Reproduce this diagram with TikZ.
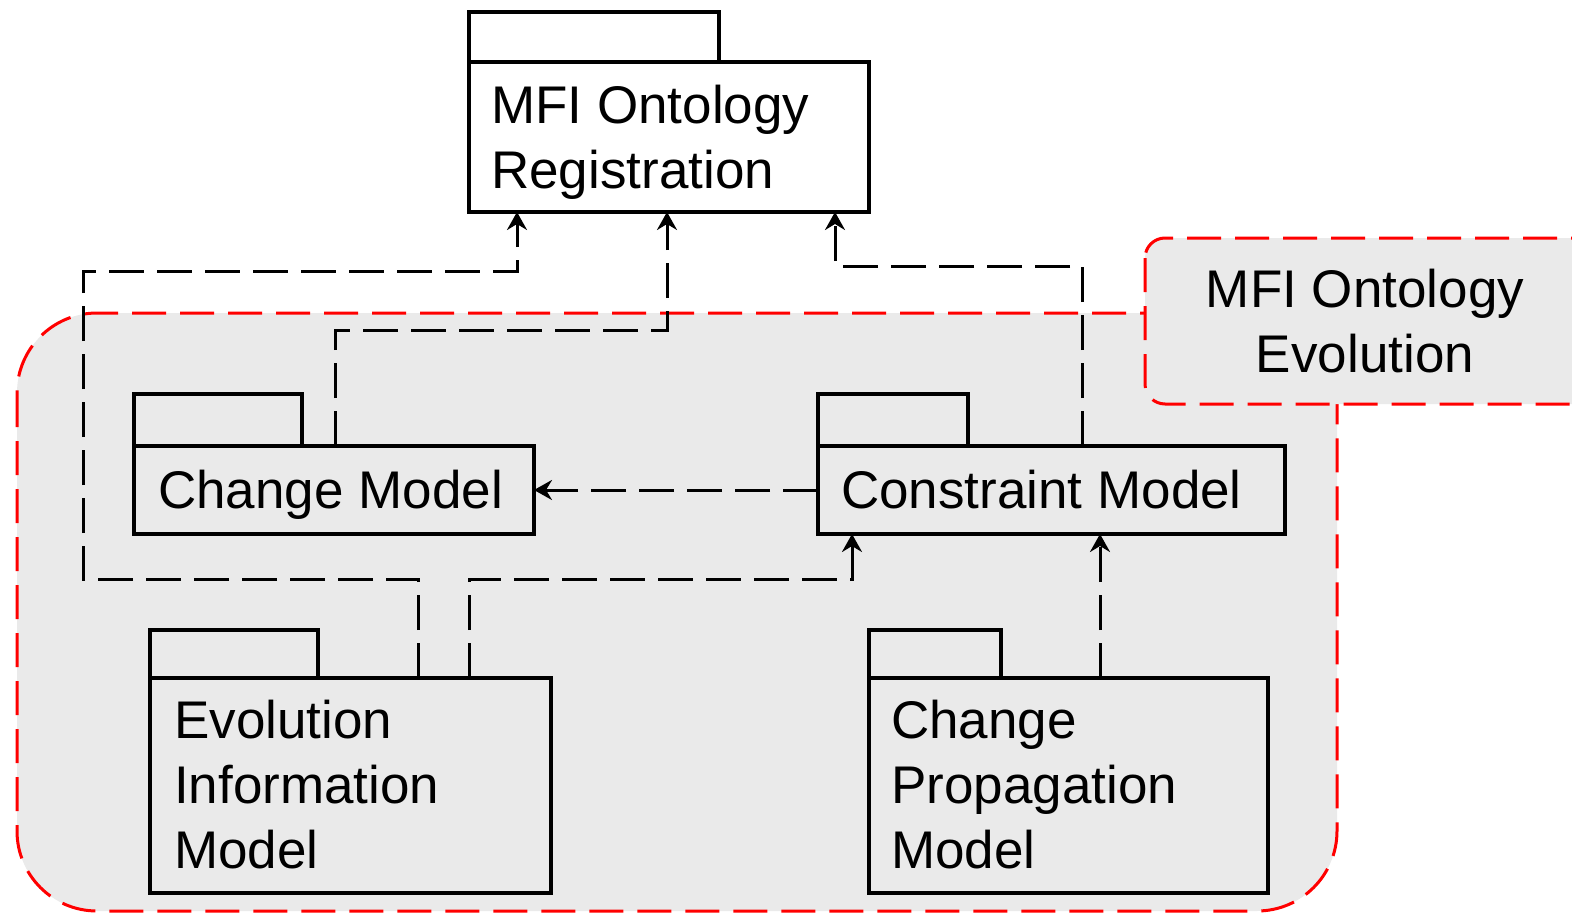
\documentclass[tikz,border=0pt]{standalone}
\usepackage{fontspec}
\setmainfont{Liberation Sans}
\usetikzlibrary{arrows.meta}
\definecolor{regiongray}{RGB}{234,234,234}
\tikzset{
  pkgbox/.style={draw=black, line width=3.5pt, anchor=north west, inner sep=0pt, outer sep=0pt},
  ingray/.style={fill=regiongray},
  inwhite/.style={fill=white},
  txt/.style={font=\fontsize{53}{65}\selectfont, inner sep=0pt, align=left, anchor=base west},
  region/.style={draw=red, fill=regiongray, line width=3pt, dash pattern=on 34pt off 14pt},
  conn/.style={draw=black, line width=3pt, dash pattern=on 35pt off 13pt, -{Stealth[length=18pt,width=20pt,inset=6pt]}}
}
\begin{document}
\begin{tikzpicture}[x=1pt, y=-1pt]
\useasboundingbox (0,0) rectangle (1572,913);
\clip (0,0) rectangle (1572,913);
\fill[white] (0,0) rectangle (1572,913);
% region outline
\path[region, rounded corners=80pt] (17,313) rectangle (1337,911);
\path[region, rounded corners=20pt] (1145,238) rectangle (1640,404);
\node[txt, align=center, anchor=base] (evolabel) at (1365,372) {MFI Ontology\\Evolution};
% packages
\node[pkgbox, inwhite, minimum width=250pt, minimum height=50pt] (regtab) at (469,12) {};
\node[pkgbox, inwhite, minimum width=400pt, minimum height=150pt] (reg) at (469,62) {};
\node[txt] (regtxt) at (491,188) {MFI Ontology\\Registration};
\node[pkgbox, ingray, minimum width=168pt, minimum height=52pt] (chgtab) at (134,394) {};
\node[pkgbox, ingray, minimum width=400pt, minimum height=88pt] (chg) at (134,446) {};
\node[txt] (chgtxt) at (158,508) {Change Model};
\node[pkgbox, ingray, minimum width=150pt, minimum height=52pt] (contab) at (818,394) {};
\node[pkgbox, ingray, minimum width=467pt, minimum height=88pt] (con) at (818,446) {};
\node[txt] (contxt) at (841,508) {Constraint Model};
\node[pkgbox, ingray, minimum width=168pt, minimum height=48pt] (eimtab) at (150,630) {};
\node[pkgbox, ingray, minimum width=401pt, minimum height=215pt] (eim) at (150,678) {};
\node[txt] (eimtxt) at (174,868) {Evolution\\Information\\Model};
\node[pkgbox, ingray, minimum width=399pt, minimum height=48pt, minimum width=132pt] (cpmtab) at (869,630) {};
\node[pkgbox, ingray, minimum width=399pt, minimum height=215pt] (cpm) at (869,678) {};
\node[txt] (cpmtxt) at (891,868) {Change\\Propagation\\Model};
% connectors
\draw[conn] ([xshift=268pt]eim.north west) -- (418,579) -- (83,579) -- (83,271) -| ([xshift=48pt]reg.south west);
\draw[conn] ([xshift=319pt]eim.north west) -- (469,579) -| ([xshift=34pt]con.south west);
\draw[conn] ([xshift=201pt]chg.north west) -- (335,330) -| ([xshift=198pt]reg.south west);
\draw[conn] ([xshift=264pt]con.north west) -- (1082,266) -| ([xshift=366pt]reg.south west);
\draw[conn] (con.west) -- (chg.east);
\draw[conn] ([xshift=231pt]cpm.north west) -- ([xshift=282pt]con.south west);
\end{tikzpicture}
\end{document}
